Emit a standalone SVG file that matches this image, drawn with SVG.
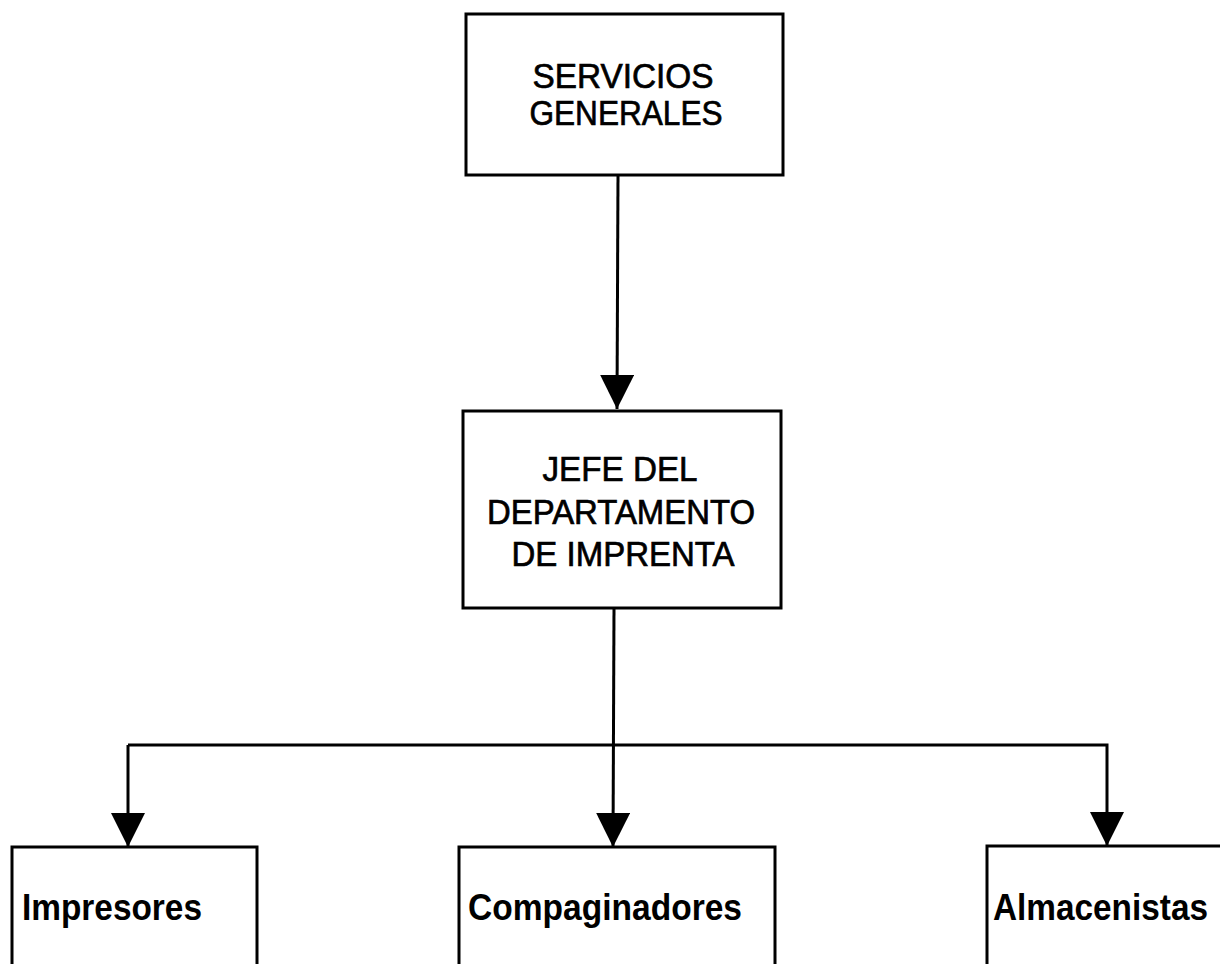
<svg xmlns="http://www.w3.org/2000/svg" width="1220" height="964" viewBox="0 0 1220 964">
<style>
.box{fill:#fff;stroke:#000;stroke-width:3}
.t{font-family:"Liberation Sans",Arial,sans-serif;font-size:35px;fill:#000;stroke:#000;stroke-width:0.7;text-anchor:middle}
.b{font-family:"Liberation Sans",Arial,sans-serif;font-size:37px;font-weight:bold;fill:#000}
.ln{fill:none;stroke:#000;stroke-width:3}
</style>
<defs>
<marker id="ah" markerUnits="userSpaceOnUse" markerWidth="34" markerHeight="36" refX="34" refY="17" orient="auto">
<path d="M0,0 L34,17 L0,34 Z" fill="#000"/>
</marker>
</defs>
<rect width="1220" height="964" fill="#fff"/>
<g id="connectors">
<line class="ln" x1="618" y1="175" x2="617" y2="409" marker-end="url(#ah)"/>
<line class="ln" x1="614" y1="608" x2="613" y2="847" marker-end="url(#ah)"/>
<polyline class="ln" points="128,745 1107,745 1107,846" marker-end="url(#ah)"/>
<line class="ln" x1="128" y1="745" x2="128" y2="847" marker-end="url(#ah)"/>
</g>
<g id="servicios">
<rect class="box" x="466" y="14" width="317" height="161"/>
<text class="t" x="623" y="88" textLength="181" lengthAdjust="spacingAndGlyphs">SERVICIOS</text>
<text class="t" x="626" y="125" textLength="193" lengthAdjust="spacingAndGlyphs">GENERALES</text>
</g>
<g id="jefe">
<rect class="box" x="463" y="411" width="318" height="197"/>
<text class="t" x="620" y="481" textLength="155" lengthAdjust="spacingAndGlyphs">JEFE DEL</text>
<text class="t" x="621" y="524" textLength="268" lengthAdjust="spacingAndGlyphs">DEPARTAMENTO</text>
<text class="t" x="623" y="566" textLength="223" lengthAdjust="spacingAndGlyphs">DE IMPRENTA</text>
</g>
<g id="impresores">
<rect class="box" x="12" y="847" width="245" height="130"/>
<text class="b" x="22" y="920" textLength="180" lengthAdjust="spacingAndGlyphs">Impresores</text>
</g>
<g id="compaginadores">
<rect class="box" x="459" y="847" width="316" height="130"/>
<text class="b" x="468" y="920" textLength="274" lengthAdjust="spacingAndGlyphs">Compaginadores</text>
</g>
<g id="almacenistas">
<rect class="box" x="987" y="846" width="260" height="130"/>
<text class="b" x="993" y="920" textLength="215" lengthAdjust="spacingAndGlyphs">Almacenistas</text>
</g>
</svg>
